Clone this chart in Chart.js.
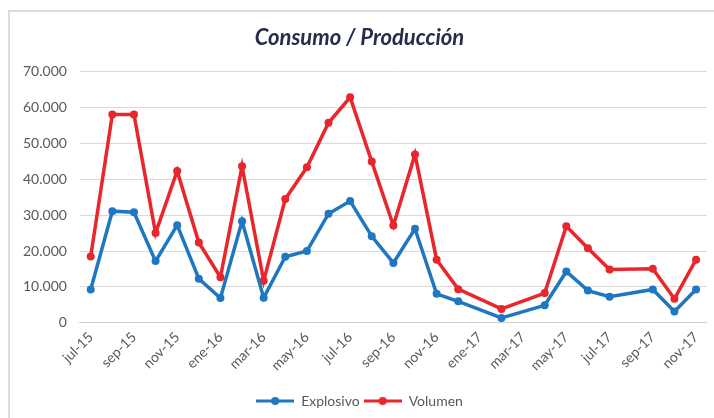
<!DOCTYPE html>
<html>
<head>
<meta charset="utf-8">
<script src="https://cdn.jsdelivr.net/npm/chart.js@4.4.1/dist/chart.umd.min.js"></script>
<style>
  body { margin: 0; background: #fff; }
  #wrap { position: relative; width: 714px; height: 418px; }
  #frame { position: absolute; left: 8px; top: 10px; width: 720px; height: 420px;
           border-top: 2px solid #dcdcdc; border-left: 2px solid #dcdcdc; pointer-events: none; }
</style>
</head>
<body>
<div id="wrap">
  <canvas id="myChart" width="714" height="418"></canvas>
  <div id="frame"></div>
</div>
<script>
// months jul-15 .. nov-17, one point per month (null = no point in the picture)
const months = ['jul-15','ago-15','sep-15','oct-15','nov-15','dic-15','ene-16','feb-16','mar-16','abr-16',
  'may-16','jun-16','jul-16','ago-16','sep-16','oct-16','nov-16','dic-16','ene-17','feb-17','mar-17',
  'abr-17','may-17','jun-17','jul-17','ago-17','sep-17','oct-17','nov-17'];

const explosivo = [9300, 31100, 30800, 17200, 27200, 12300, 6900, 28300, 7000, 18400,
  20000, 30400, 33900, 24100, 16700, 26200, 8100, 6000, null, 1400, null,
  4900, 14300, 9000, 7300, null, 9300, 3200, 9300];

const volumen = [18500, 58000, 58000, 25000, 42300, 22400, 12700, 43600, 11700, 34500,
  43300, 55700, 62800, 44900, 27100, 46900, 17600, 9400, null, 3900, null,
  8300, 26900, 20800, 14900, null, 15100, 6700, 17600];

const yTicks = [0, 10000, 20000, 30000, 40000, 50000, 60000, 70000];

const blue = '#1f77c2';
const red = '#e8262b';
const textColor = '#595959';

// little line+dot marker for the legend
function marker(color){
  let c = document.createElement('canvas');
  c.width = 38; c.height = 10;
  let g = c.getContext('2d');
  g.strokeStyle = color; g.lineWidth = 3;
  g.beginPath(); g.moveTo(0, 5); g.lineTo(38, 5); g.stroke();
  g.fillStyle = color;
  g.beginPath(); g.arc(19, 5, 4, 0, Math.PI * 2); g.fill();
  return c;
}

function fmt(v){
  return v.toLocaleString('de-DE');
}

const ctx = document.getElementById('myChart');

new Chart(ctx, {
  type: 'line',
  data: {
    labels: months,
    datasets: [{
      label: 'Explosivo',
      data: explosivo,
      borderColor: blue,
      backgroundColor: blue,
      borderWidth: 3.5,
      pointRadius: 4,
      pointBorderWidth: 0,
      spanGaps: true
    }, {
      label: 'Volumen',
      data: volumen,
      borderColor: red,
      backgroundColor: red,
      borderWidth: 3.5,
      pointRadius: 4,
      pointBorderWidth: 0,
      spanGaps: true
    }]
  },
  options: {
    responsive: false,
    animation: false,
    layout: { padding: { left: 10, right: 5, top: 10, bottom: 0 } },
    plugins: {
      title: {
        display: true,
        text: 'Consumo / Producción',
        color: '#262c4a',
        font: { family: 'Lato', size: 22, weight: 'bold', style: 'italic' },
        padding: { top: 15, bottom: 20 }
      },
      legend: {
        position: 'bottom',
        labels: {
          color: textColor,
          font: { family: 'Lato', size: 14 },
          usePointStyle: true,
          pointStyleWidth: 38,
          boxHeight: 10,
          padding: 4,
          generateLabels: function(chart){
            return chart.data.datasets.map(function(ds, i){
              return {
                text: ds.label,
                pointStyle: marker(ds.borderColor),
                fillStyle: ds.borderColor,
                strokeStyle: ds.borderColor,
                lineWidth: 0,
                fontColor: textColor,
                datasetIndex: i
              };
            });
          }
        }
      },
      tooltip: { enabled: false }
    },
    scales: {
      x: {
        offset: true,
        grid: { display: false, drawTicks: false },
        border: { color: '#d0d0d0', width: 1 },
        afterFit: function(axis){ axis.height += 10; },
        ticks: {
          autoSkip: false,
          maxRotation: 45,
          minRotation: 45,
          padding: 6,
          color: textColor,
          font: { family: 'Lato', size: 14 },
          callback: function(v, i){ return i % 2 === 0 ? months[i] : ''; }
        }
      },
      y: {
        min: 0,
        max: 70000,
        afterBuildTicks: function(axis){ axis.ticks = yTicks.map(v => ({ value: v })); },
        grid: { color: '#d9d9d9', lineWidth: 1, drawTicks: false },
        border: { display: false },
        ticks: {
          padding: 13,
          color: textColor,
          font: { family: 'Lato', size: 14 },
          callback: function(v){ return fmt(v); }
        }
      }
    }
  }
});
</script>
</body>
</html>
